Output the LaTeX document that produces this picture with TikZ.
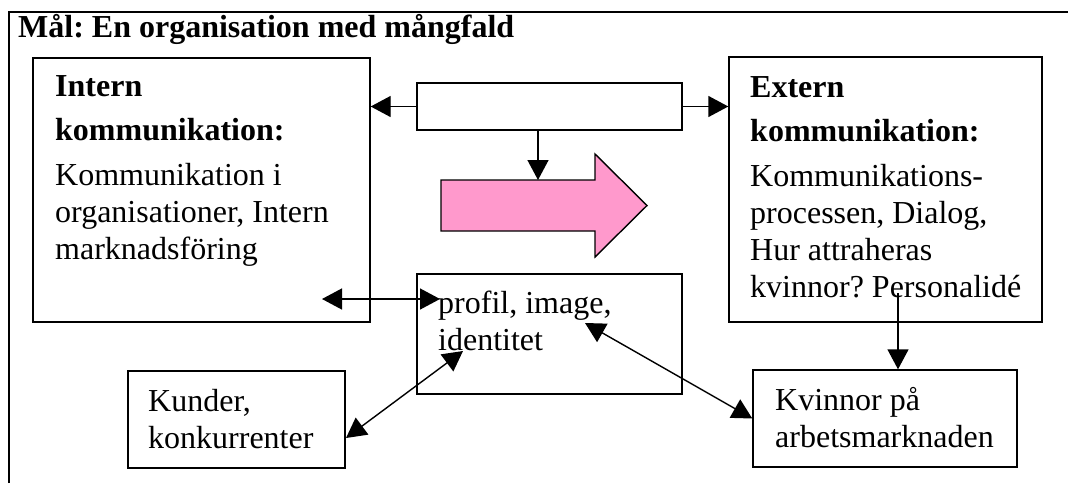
\documentclass[tikz,border=0pt]{standalone}
\usepackage{fontspec}
\setmainfont{Liberation Serif}
\usetikzlibrary{arrows.meta,positioning,calc}
\frenchspacing

\definecolor{arrowpink}{RGB}{255,153,204}

\begin{document}
\begin{tikzpicture}[
    x=1pt, y=-1pt,
    box/.style={rectangle, draw, line width=1.4pt, inner sep=0pt},
    txt/.style={anchor=base west, inner sep=0pt, align=left,
                font=\fontsize{32}{37}\selectfont},
    arrow/.style={-{Triangle[length=20pt, width=21pt]}, line width=1.4pt},
    both/.style={{Triangle[length=20pt, width=21pt]}-{Triangle[length=20pt, width=21pt]},
                 line width=1.4pt}
]
\useasboundingbox (0,0) rectangle (1068,483);

% Frame and goal
\draw[line width=2.5pt] (9,483) |- (1068,12);
\node[anchor=base west, inner sep=0pt, font=\fontsize{32}{37}\selectfont\bfseries]
    (goal) at (18,37) {Mål: En organisation med mångfald};

% Boxes
\node[box, minimum width=337pt, minimum height=264pt] (intern) at (201.5,190) {};
\node[box, minimum width=265pt, minimum height=47pt] (topbox) at (549.5,106.5) {};
\node[box, minimum width=313pt, minimum height=265pt] (extern) at (885.5,189.5) {};
\node[box, minimum width=265pt, minimum height=120pt] (profil) at (549.5,334) {};
\node[box, minimum width=217pt, minimum height=97pt] (kunder) at (236.5,419.5) {};
\node[box, minimum width=264pt, minimum height=97pt] (kvinnor) at (885,418.5) {};

% Big arrow
\draw[line width=1.4pt, fill=arrowpink] (441,180) -- (595,180) -- (595,154) -- (647,205.5)
    -- (595,257) -- (595,231) -- (441,231) -- cycle;
\coordinate (fat) at (538,180);

% Texts (anchored at the last line)
\node[txt] (intern-text) at (55,259) {\textbf{Intern}\\[7pt]\textbf{kommunikation:}\\[8pt]
    Kommunikation i\\organisationer, Intern\\marknadsföring};
\node[txt] (extern-text) at (750,297) {\textbf{Extern}\\[7pt]\textbf{kommunikation:}\\[8pt]
    Kommunikations-\\processen, Dialog,\\Hur attraheras\\kvinnor? Personalidé};
\node[txt] (profil-text) at (438,350) {profil, image,\\identitet};
\node[txt] (kunder-text) at (148,448) {Kunder,\\konkurrenter};
\node[txt] (kvinnor-text) at (775,447) {Kvinnor på\\arbetsmarknaden};

% Connections
\coordinate (in1) at (322,299);
\coordinate (in2) at (440,299);
\coordinate (id1) at (346,438);
\coordinate (id2) at (463,351);
\coordinate (im1) at (585,323);
\coordinate (pers) at (898,293);

\draw[arrow] (topbox.west) -- (topbox.west -| intern.east);
\draw[arrow] (topbox.east) -- (topbox.east -| extern.west);
\draw[arrow] (topbox.south -| fat) -- (fat);
\draw[both] (in1) -- (in2);
\draw[both] (id1) -- (id2);
\draw[both] (im1) -- (kvinnor.west);
\draw[arrow] (pers) -- (pers |- kvinnor.north);

\end{tikzpicture}
\end{document}
